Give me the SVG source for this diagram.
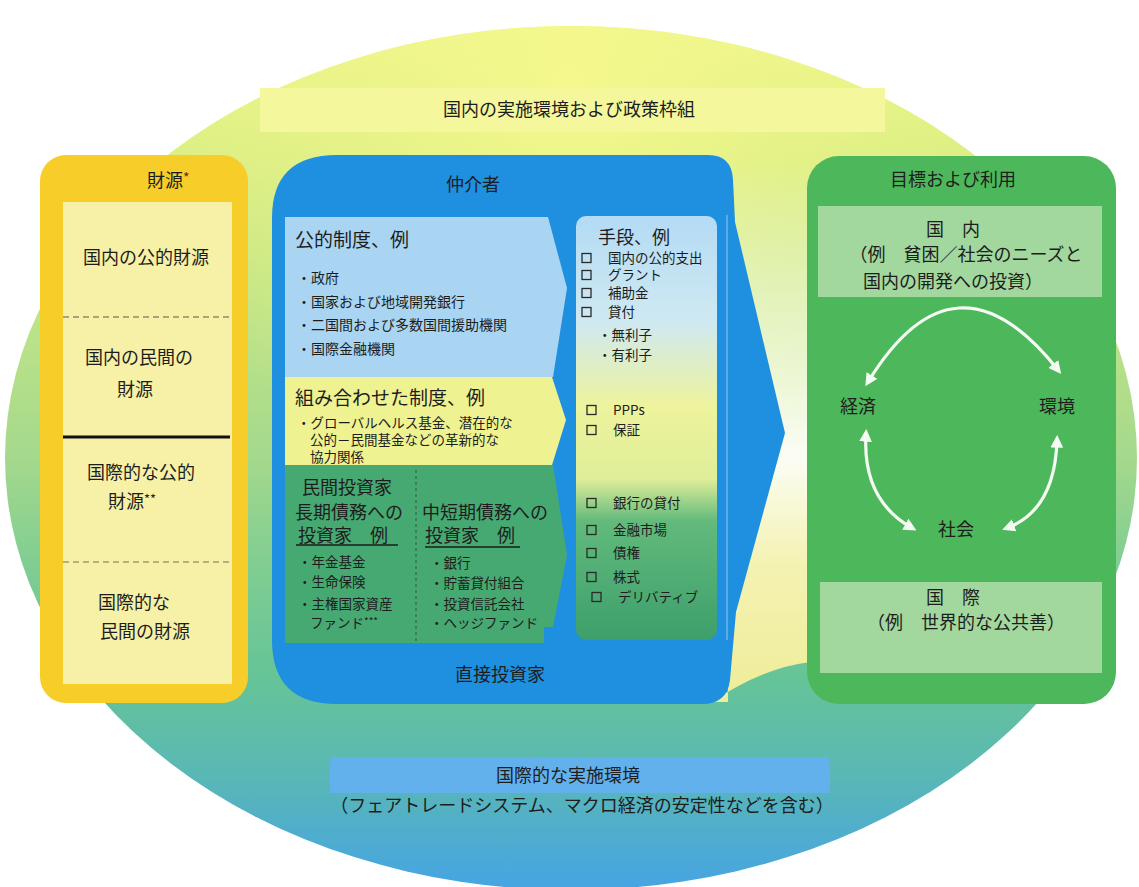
<svg xmlns="http://www.w3.org/2000/svg" width="1139" height="887" viewBox="0 0 1139 887">
<defs>
<style>
.t{font-family:"Noto Sans CJK JP","Noto Sans",sans-serif;fill:#1d1d1d}
.h{font-size:18px}
.h17{font-size:17px}
.h19{font-size:19px}
.b{font-size:14px}
.b2{font-size:13.5px}
.s{font-size:13.5px}
.m{text-anchor:middle}
.cb{fill:none;stroke:#2a2a2a;stroke-width:1.3}
.arc{fill:none;stroke:#f4fbf2;stroke-width:3.2}
</style>
<linearGradient id="gEll" x1="0" y1="15" x2="0" y2="895" gradientUnits="userSpaceOnUse">
<stop offset="0" stop-color="#f2f78c"/>
<stop offset="0.15" stop-color="#dcef84"/>
<stop offset="0.35" stop-color="#bde388"/>
<stop offset="0.5" stop-color="#a5d98c"/>
<stop offset="0.63" stop-color="#7fcd92"/>
<stop offset="0.75" stop-color="#66c497"/>
<stop offset="0.86" stop-color="#5ab8b4"/>
<stop offset="1" stop-color="#45a3e6"/>
</linearGradient>
<radialGradient id="gGlow" cx="570" cy="90" r="430" gradientUnits="userSpaceOnUse">
<stop offset="0" stop-color="#f6f98e" stop-opacity="0.9"/>
<stop offset="0.6" stop-color="#eef58a" stop-opacity="0.4"/>
<stop offset="1" stop-color="#eef58a" stop-opacity="0"/>
</radialGradient>
<linearGradient id="gGap" x1="0" y1="160" x2="0" y2="700" gradientUnits="userSpaceOnUse">
<stop offset="0" stop-color="#e8f5c6" stop-opacity="0"/>
<stop offset="0.25" stop-color="#e8f5c6" stop-opacity="0.8"/>
<stop offset="0.55" stop-color="#fbfdf4"/>
<stop offset="0.75" stop-color="#f4f2b2"/>
<stop offset="1" stop-color="#efed98"/>
</linearGradient>
<linearGradient id="gInst" x1="0" y1="216" x2="0" y2="640" gradientUnits="userSpaceOnUse">
<stop offset="0" stop-color="#b3dbf5"/>
<stop offset="0.25" stop-color="#cfe9f1"/>
<stop offset="0.45" stop-color="#eef39c"/>
<stop offset="0.62" stop-color="#dfee98"/>
<stop offset="0.72" stop-color="#62ba7c"/>
<stop offset="1" stop-color="#3d9f6b"/>
</linearGradient>
<marker id="ah" viewBox="0 0 10 10" refX="6" refY="5" markerWidth="4" markerHeight="4" orient="auto-start-reverse" markerUnits="strokeWidth">
<path d="M0,0 L10,5 L0,10 Z" fill="#f4fbf2"/>
</marker>
</defs>

<g id="background">
<ellipse cx="571" cy="458" rx="566" ry="432" fill="url(#gEll)"/>
<ellipse cx="571" cy="458" rx="566" ry="432" fill="url(#gGlow)"/>
<path d="M728,160 L810,160 L810,662 Q762,668 712,702 L728,702 Z" fill="url(#gGap)"/>
</g>

<g id="top-band">
<rect x="260" y="88" width="625" height="44" fill="#f5f79c"/>
<text class="t h m" x="569" y="116">国内の実施環境および政策枠組</text>
</g>

<g id="bottom-band">
<rect x="330" y="757" width="500" height="36" fill="#62b1ec"/>
<text class="t h m" x="568" y="782">国際的な実施環境</text>
<text class="t h m" x="582" y="812">（フェアトレードシステム、マクロ経済の安定性などを含む）</text>
</g>

<g id="sources">
<rect x="40" y="155" width="208" height="548" rx="26" fill="#f7cd2a"/>
<rect x="63" y="202" width="169" height="482" fill="#f6f1a6"/>
<line x1="63" y1="317" x2="232" y2="317" stroke="#8a8a70" stroke-width="1.3" stroke-dasharray="6,4"/>
<line x1="63" y1="437" x2="230" y2="437" stroke="#111" stroke-width="3"/>
<line x1="63" y1="562" x2="232" y2="562" stroke="#a09a70" stroke-width="1.3" stroke-dasharray="6,4"/>
<text class="t h" x="147" y="187">財源<tspan font-size="14" fill="#7a1d12" dy="-4">*</tspan></text>
<text class="t h" x="83" y="264">国内の公的財源</text>
<text class="t h" x="85" y="364">国内の民間の</text>
<text class="t h" x="117" y="396">財源</text>
<text class="t h" x="87" y="479">国際的な公的</text>
<text class="t h" x="108" y="508">財源<tspan font-size="13" dy="-4">**</tspan></text>
<text class="t h" x="98" y="609">国際的な</text>
<text class="t h" x="100" y="638">民間の財源</text>
</g>

<g id="intermediaries">
<path d="M337,155 L708,155 Q732,155 733,180 L735,222 L785,433 L736,612 L730,680 Q727,704 702,704 L337,704 Q272,704 272,640 L272,218 Q272,155 337,155 Z" fill="#1f8fe0"/>
<line x1="727" y1="215" x2="727" y2="640" stroke="#7fc0ee" stroke-width="1.2"/>
<text class="t h m" x="473" y="191">仲介者</text>
<text class="t h m" x="500" y="681" fill="#14213f">直接投資家</text>
</g>

<g id="public-institutions">
<path d="M285,217 L548,217 L567,288 L553,377 L285,377 Z" fill="#a9d5f2"/>
<text class="t h19" x="295" y="247">公的制度、例</text>
<text class="t b" x="297" y="283">・政府</text>
<text class="t b" x="297" y="307">・国家および地域開発銀行</text>
<text class="t b" x="297" y="330">・二国間および多数国間援助機関</text>
<text class="t b" x="297" y="354">・国際金融機関</text>
</g>

<g id="combined-institutions">
<path d="M285,377 L552,377 L566,420 L552,465 L285,465 Z" fill="#eef290"/>
<text class="t h19" x="295" y="405">組み合わせた制度、例</text>
<text class="t b2" x="297" y="428">・グローバルヘルス基金、潜在的な</text>
<text class="t b2" x="310" y="445">公的－民間基金などの革新的な</text>
<text class="t b2" x="310" y="462">協力関係</text>
</g>

<g id="private-investors">
<path d="M285,465 L553,465 L567,555 L553,627 L544,627 L544,643 L285,643 Z" fill="#47a972"/>
<line x1="416" y1="470" x2="416" y2="643" stroke="#2c6e48" stroke-width="1.2" stroke-dasharray="3,3"/>
<text class="t h" x="302" y="494">民間投資家</text>
<text class="t h" x="295" y="519">長期債務への</text>
<text class="t h" x="298" y="542">投資家　例</text>
<line x1="296" y1="545" x2="398" y2="545" stroke="#1d1d1d" stroke-width="1.4"/>
<text class="t h" x="422" y="519">中短期債務への</text>
<text class="t h" x="425" y="542">投資家　例</text>
<line x1="425" y1="547" x2="520" y2="547" stroke="#1d1d1d" stroke-width="1.4"/>
<text class="t s" x="298" y="567">・年金基金</text>
<text class="t s" x="298" y="587">・生命保険</text>
<text class="t s" x="298" y="609">・主権国家資産</text>
<text class="t s" x="310" y="628">ファンド<tspan font-size="10" dy="-3">***</tspan></text>
<text class="t s" x="430" y="568">・銀行</text>
<text class="t s" x="430" y="588">・貯蓄貸付組合</text>
<text class="t s" x="430" y="609">・投資信託会社</text>
<text class="t s" x="430" y="628">・ヘッジファンド</text>
</g>

<g id="instruments">
<rect x="576" y="216" width="141" height="424" rx="10" fill="url(#gInst)"/>
<text class="t h" x="598" y="244">手段、例</text>
<rect class="cb" x="582" y="253.5" width="9" height="9"/>
<text class="t s" x="608" y="263">国内の公的支出</text>
<rect class="cb" x="582" y="270.5" width="9" height="9"/>
<text class="t s" x="608" y="280">グラント</text>
<rect class="cb" x="582" y="288.5" width="9" height="9"/>
<text class="t s" x="608" y="298">補助金</text>
<rect class="cb" x="582" y="307.5" width="9" height="9"/>
<text class="t s" x="608" y="317">貸付</text>
<text class="t s" x="598" y="340">・無利子</text>
<text class="t s" x="598" y="360">・有利子</text>
<rect class="cb" x="587" y="405.5" width="9" height="9"/>
<text class="t s" x="613" y="415" font-family="Liberation Sans, sans-serif">PPPs</text>
<rect class="cb" x="587" y="425.5" width="9" height="9"/>
<text class="t s" x="613" y="435">保証</text>
<rect class="cb" x="587" y="498.5" width="9" height="9"/>
<text class="t s" x="613" y="508">銀行の貸付</text>
<rect class="cb" x="587" y="525.5" width="9" height="9"/>
<text class="t s" x="613" y="535">金融市場</text>
<rect class="cb" x="587" y="548.5" width="9" height="9"/>
<text class="t s" x="613" y="558">債権</text>
<rect class="cb" x="587" y="572.5" width="9" height="9"/>
<text class="t s" x="613" y="582">株式</text>
<rect class="cb" x="592" y="592.5" width="9" height="9"/>
<text class="t s" x="618" y="602">デリバティブ</text>
</g>

<g id="goals">
<rect x="807" y="156" width="309" height="548" rx="32" fill="#4db75b"/>
<rect x="818" y="206" width="284" height="91" fill="#a2d89e"/>
<rect x="820" y="582" width="282" height="91" fill="#a2d89e"/>
<text class="t h m" x="953" y="186">目標および利用</text>
<text class="t h m" x="953" y="236">国　内</text>
<text class="t h m" x="966" y="261">（例　貧困／社会のニーズと</text>
<text class="t h m" x="953" y="288">国内の開発への投資）</text>
<text class="t h m" x="858" y="413">経済</text>
<text class="t h m" x="1057" y="413">環境</text>
<text class="t h m" x="956" y="536">社会</text>
<text class="t h m" x="953" y="604">国　際</text>
<text class="t h m" x="966" y="629">（例　世界的な公共善）</text>
</g>

<g id="connectors">
<path class="arc" d="M868,382 Q955,240 1058,370" marker-start="url(#ah)" marker-end="url(#ah)"/>
<path class="arc" d="M866,434 Q862,500 912,528" marker-start="url(#ah)" marker-end="url(#ah)"/>
<path class="arc" d="M1007,528 Q1055,510 1057,440" marker-start="url(#ah)" marker-end="url(#ah)"/>
</g>
</svg>
